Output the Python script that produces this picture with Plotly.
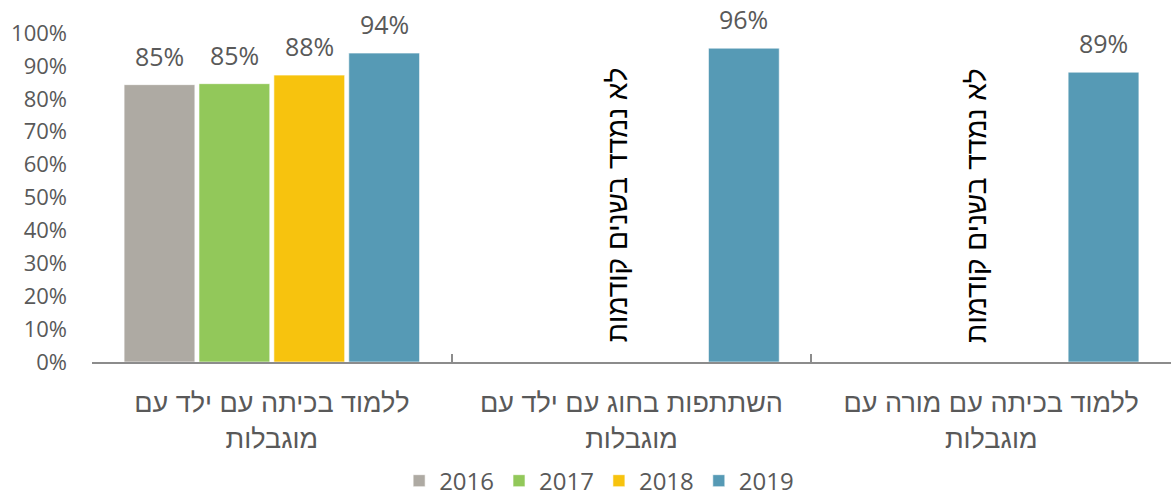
import plotly.graph_objects as go

categories = [
    "ללמוד בכיתה עם ילד עם<br>מוגבלות",
    "השתתפות בחוג עם ילד עם<br>מוגבלות",
    "ללמוד בכיתה עם מורה עם<br>מוגבלות",
]
years = ["2016", "2017", "2018", "2019"]
values_2016 = [84.3, None, None]
values_2017 = [84.6, None, None]
values_2018 = [87.2, None, None]
values_2019 = [93.9, 95.4, 88.1]
labels_2016 = ["85%", "", ""]
labels_2017 = ["85%", "", ""]
labels_2018 = ["88%", "", ""]
labels_2019 = ["94%", "96%", "89%"]
not_measured_text = "לא נמדד בשנים קודמות"
not_measured_cats = [categories[1], categories[2]]
not_measured_y = [47.5, 47.5]
y_ticks = [0, 10, 20, 30, 40, 50, 60, 70, 80, 90, 100]
y_tick_text = ["0%", "10%", "20%", "30%", "40%", "50%", "60%", "70%", "80%", "90%", "100%"]

colors = ["#AEAAA3", "#92C85A", "#F7C30E", "#569AB5"]
series = [values_2016, values_2017, values_2018, values_2019]
labels = [labels_2016, labels_2017, labels_2018, labels_2019]

FONT = "Open Sans, Lato, Liberation Sans, sans-serif"
HEB = "Liberation Sans, Arial, sans-serif"
GREY = "#595959"

BAR_GAP = 0.167
GROUP_GAP = 0.055

fig = go.Figure()
for yr, vals, col in zip(years, series, colors):
    fig.add_trace(go.Bar(
        name=yr, x=categories, y=vals,
        marker=dict(color=col, line=dict(color="rgba(255,255,255,0.6)", width=1)),
        hoverinfo="skip",
    ))

# value labels above bars (offset within group computed from slot index)
n = len(years)
slot = (1 - BAR_GAP) / n
for i, (vals, txts) in enumerate(zip(series, labels)):
    off = -(1 - BAR_GAP) / 2 + slot * (i + 0.5)
    for ci, (v, t) in enumerate(zip(vals, txts)):
        if v is None or not t:
            continue
        fig.add_annotation(
            x=ci + off, y=v, text=t, showarrow=False, yanchor="bottom", yshift=10,
            font=dict(size=25, color=GREY, family=FONT),
        )

for c, yv in zip(not_measured_cats, not_measured_y):
    fig.add_annotation(
        x=c, y=yv, text=not_measured_text, textangle=-90, showarrow=False,
        xshift=-14, font=dict(size=28, color="#000000", family=HEB),
    )

fig.update_layout(
    width=1171, height=500,
    margin=dict(l=92, r=0, t=33, b=138, autoexpand=False),
    paper_bgcolor="white", plot_bgcolor="white",
    barmode="group", bargap=BAR_GAP, bargroupgap=GROUP_GAP,
    font=dict(family=FONT, color=GREY),
    legend=dict(orientation="h", x=0.47, xanchor="center", y=-0.362, yanchor="middle",
                font=dict(size=24, color=GREY, family=FONT), itemwidth=30,
                traceorder="normal"),
    showlegend=True,
)
fig.update_xaxes(
    showline=True, linecolor="#8C8C8C", linewidth=2,
    ticks="inside", tickson="boundaries", ticklen=8, tickwidth=2, tickcolor="#8C8C8C",
    tickfont=dict(size=27, color=GREY, family=HEB), ticklabelstandoff=16,
    showgrid=False, range=[-0.5, 2.5], fixedrange=True, automargin=False,
)
fig.update_yaxes(
    range=[0, 100], tickvals=y_ticks, ticktext=y_tick_text, showgrid=False, zeroline=False,
    showline=False, tickfont=dict(size=22, color=GREY, family=FONT), ticks="",
    ticklabelstandoff=24, fixedrange=True, automargin=False,
)

fig.write_html("out.html", config={"displayModeBar": False},
               post_script="document.body.style.margin='0px';")
